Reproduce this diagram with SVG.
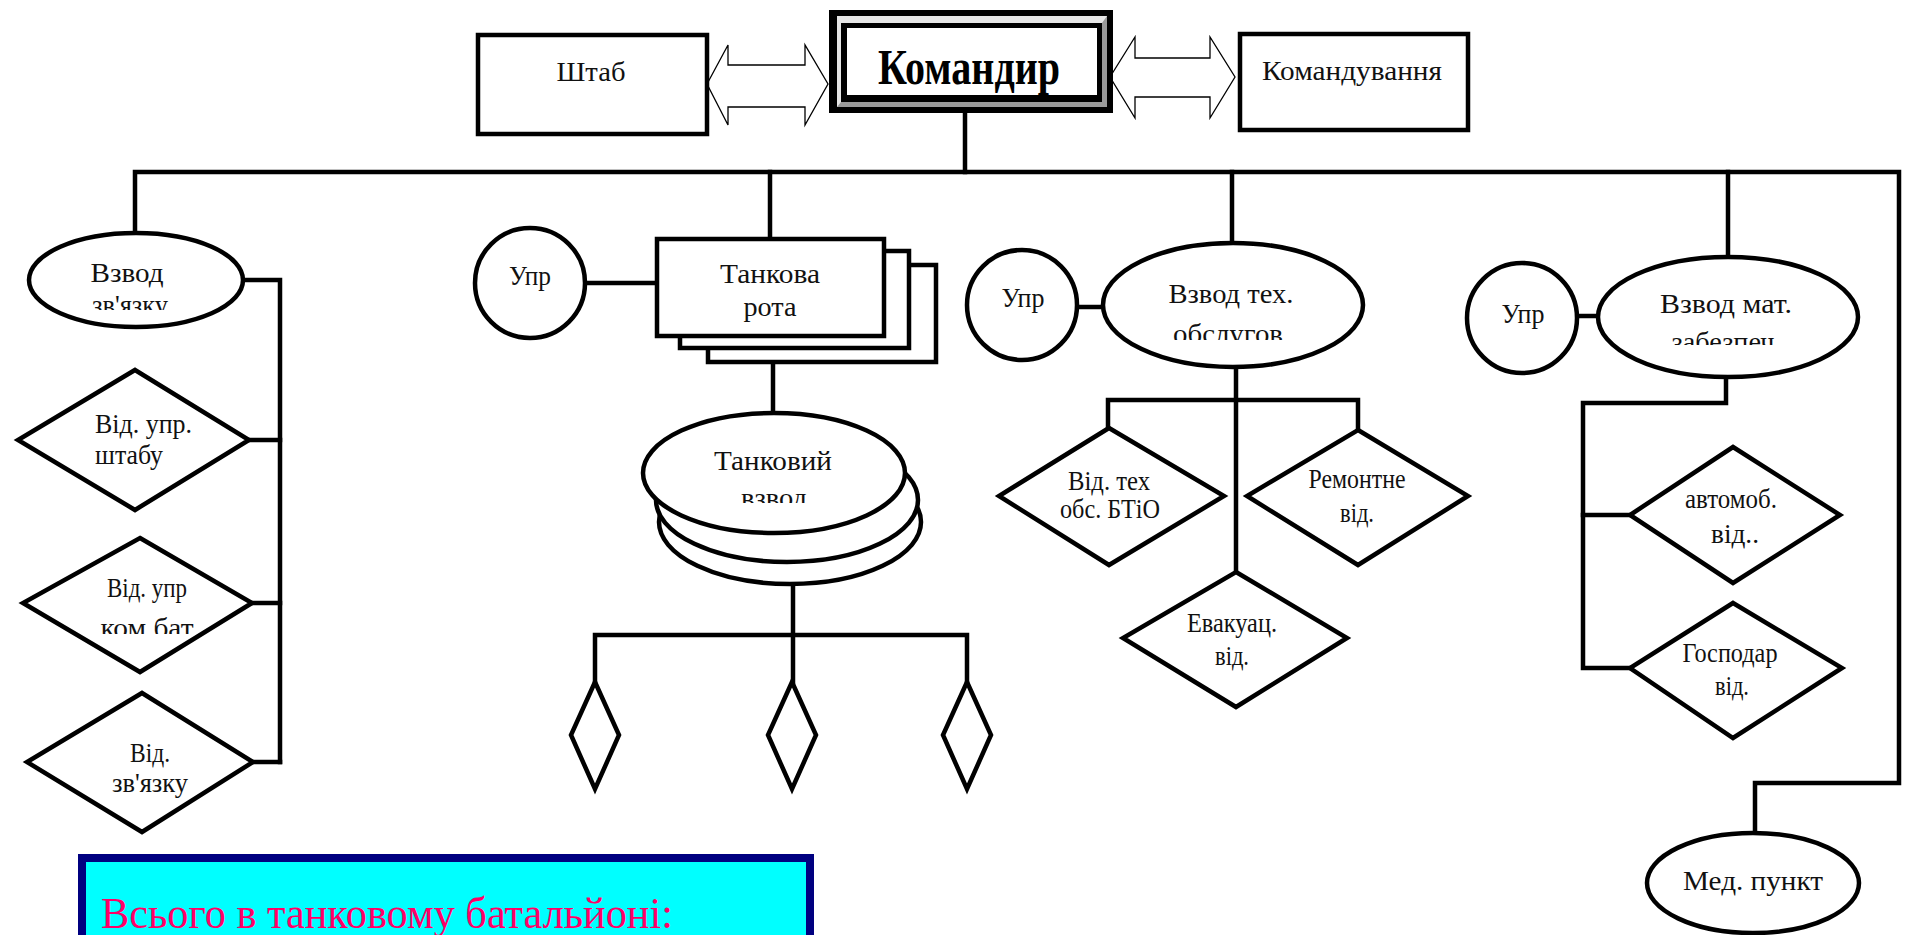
<svg xmlns="http://www.w3.org/2000/svg" width="1906" height="935" viewBox="0 0 1906 935">
<style>
.ln{fill:none;stroke:#000;stroke-width:4.5;stroke-linecap:square}
.sh{fill:#fff;stroke:#000;stroke-width:4.5}
.ar{fill:#fff;stroke:#000;stroke-width:1.3}
.t{font-family:"Liberation Serif","Times New Roman",serif;font-size:28px;fill:#111;text-anchor:middle}
.tl{font-family:"Liberation Serif","Times New Roman",serif;font-size:28px;fill:#111}
.tb{font-family:"Liberation Serif","Times New Roman",serif;font-size:50px;font-weight:bold;fill:#000;text-anchor:middle}
.sum{font-family:"Liberation Serif","Times New Roman",serif;font-size:44px;fill:#ff0066}
</style>
<defs>
<clipPath id="c1"><rect x="20" y="240" width="240" height="70"/></clipPath>
<clipPath id="c2"><rect x="20" y="560" width="240" height="74"/></clipPath>
<clipPath id="c3"><rect x="640" y="420" width="270" height="83"/></clipPath>
<clipPath id="c4"><rect x="1100" y="250" width="270" height="90"/></clipPath>
<clipPath id="c5"><rect x="1600" y="260" width="260" height="85"/></clipPath>
</defs>
<rect width="1906" height="935" fill="#fff"/>

<g id="connectors">
<polyline class="ln" points="965,113 965,172"/>
<polyline class="ln" points="135,231 135,172 1899,172 1899,783 1755,783 1755,833"/>
<polyline class="ln" points="770,172 770,239"/>
<polyline class="ln" points="1232,172 1232,243"/>
<polyline class="ln" points="1728,172 1728,257"/>
<polyline class="ln" points="243,280 280,280 280,762"/>
<line class="ln" x1="249" y1="440" x2="280" y2="440"/>
<line class="ln" x1="252" y1="603" x2="280" y2="603"/>
<line class="ln" x1="253" y1="762" x2="280" y2="762"/>
<line class="ln" x1="585" y1="283" x2="657" y2="283"/>
<line class="ln" x1="773" y1="336" x2="773" y2="413"/>
<polyline class="ln" points="793,584 793,682"/>
<polyline class="ln" points="595,682 595,635 967,635 967,682"/>
<line class="ln" x1="1078" y1="307" x2="1104" y2="307"/>
<line class="ln" x1="1236" y1="367" x2="1236" y2="572"/>
<polyline class="ln" points="1108,426 1108,400 1358,400 1358,430"/>
<line class="ln" x1="1577" y1="316" x2="1598" y2="316"/>
<polyline class="ln" points="1726,377 1726,403 1583,403 1583,668 1630,668"/>
<line class="ln" x1="1583" y1="515" x2="1630" y2="515"/>
<polygon class="ar" points="707,84 728,45 728,65 805,65 805,45 828,84 805,125 805,107 728,107 728,125"/>
<polygon class="ar" points="1110,77 1135,37 1135,58 1210,58 1210,37 1235,77 1210,118 1210,97 1135,97 1135,118"/>
</g>

<g id="shtab">
<rect class="sh" x="478" y="35" width="229" height="99"/>
<text class="t" x="591" y="81" textLength="69" lengthAdjust="spacingAndGlyphs">Штаб</text>
</g>

<g id="komandyr">
<rect x="829" y="10" width="284" height="103" fill="#000"/>
<polygon points="837,16 1107,16 1107,107 837,107" fill="#9a9a9a"/>
<polygon points="837,16 1107,16 1102,23 841,23 841,102 837,107" fill="#e6e6e6"/>
<rect x="841" y="23" width="261" height="79" fill="#000"/>
<rect x="847" y="28" width="250" height="67" fill="#fff"/>
<text class="tb" x="969" y="84" textLength="182" lengthAdjust="spacingAndGlyphs">Командир</text>
</g>

<g id="komanduvannia">
<rect class="sh" x="1240" y="34" width="228" height="96"/>
<text class="t" x="1352" y="80" textLength="180" lengthAdjust="spacingAndGlyphs">Командування</text>
</g>

<g id="vzvod-zviazku">
<ellipse class="sh" cx="136" cy="280" rx="107" ry="47"/>
<text class="t" x="127" y="282" textLength="73" lengthAdjust="spacingAndGlyphs">Взвод</text>
<text class="t" x="130" y="314" clip-path="url(#c1)" textLength="76" lengthAdjust="spacingAndGlyphs">зв'язку</text>
</g>

<g id="vid-upr-shtabu">
<polygon class="sh" points="135,370 249,440 135,510 18,440"/>
<text class="tl" x="95" y="433" textLength="97" lengthAdjust="spacingAndGlyphs">Від. упр.</text>
<text class="tl" x="95" y="464" textLength="68" lengthAdjust="spacingAndGlyphs">штабу</text>
</g>

<g id="vid-upr-kom-bat">
<polygon class="sh" points="140,538 252,603 140,672 23,603"/>
<text class="t" x="147" y="597" textLength="80" lengthAdjust="spacingAndGlyphs">Від. упр</text>
<text class="t" x="147" y="637" clip-path="url(#c2)" textLength="93" lengthAdjust="spacingAndGlyphs">ком бат</text>
</g>

<g id="vid-zviazku">
<polygon class="sh" points="142,693 253,762 142,832 27,762"/>
<text class="t" x="150" y="762" textLength="40" lengthAdjust="spacingAndGlyphs">Від.</text>
<text class="t" x="150" y="792" textLength="76" lengthAdjust="spacingAndGlyphs">зв'язку</text>
</g>

<g id="upr-1">
<circle class="sh" cx="530" cy="283" r="55"/>
<text class="t" x="530" y="285" textLength="42" lengthAdjust="spacingAndGlyphs">Упр</text>
</g>

<g id="tankova-rota">
<rect class="sh" x="708" y="265" width="228" height="97"/>
<rect class="sh" x="680" y="251" width="229" height="97"/>
<rect class="sh" x="657" y="239" width="227" height="97"/>
<text class="t" x="770" y="283" textLength="100" lengthAdjust="spacingAndGlyphs">Танкова</text>
<text class="t" x="770" y="316" textLength="53" lengthAdjust="spacingAndGlyphs">рота</text>
</g>

<g id="tankovyi-vzvod">
<ellipse class="sh" cx="790" cy="522" rx="131" ry="62"/>
<ellipse class="sh" cx="787" cy="500" rx="131" ry="62"/>
<ellipse class="sh" cx="774" cy="473" rx="131" ry="60"/>
<text class="t" x="773" y="470" textLength="118" lengthAdjust="spacingAndGlyphs">Танковий</text>
<text class="t" x="774" y="507" clip-path="url(#c3)" textLength="66" lengthAdjust="spacingAndGlyphs">взвод</text>
</g>

<g id="tank-1"><polygon class="sh" points="595,682 619,735 595,789 571,735"/></g>
<g id="tank-2"><polygon class="sh" points="792,682 816,735 792,789 768,735"/></g>
<g id="tank-3"><polygon class="sh" points="967,682 991,735 967,789 943,735"/></g>

<g id="upr-2">
<circle class="sh" cx="1022" cy="305" r="55"/>
<text class="t" x="1023" y="307" textLength="43" lengthAdjust="spacingAndGlyphs">Упр</text>
</g>

<g id="vzvod-tekh">
<ellipse class="sh" cx="1233" cy="305" rx="130" ry="62"/>
<text class="t" x="1231" y="303" textLength="125" lengthAdjust="spacingAndGlyphs">Взвод тех.</text>
<text class="t" x="1228" y="343" clip-path="url(#c4)" textLength="110" lengthAdjust="spacingAndGlyphs">обслугов</text>
</g>

<g id="vid-tekh-obs">
<polygon class="sh" points="1109,428 1224,496 1109,565 999,496"/>
<text class="t" x="1109" y="490" textLength="82" lengthAdjust="spacingAndGlyphs">Від. тех</text>
<text class="t" x="1110" y="518" textLength="100" lengthAdjust="spacingAndGlyphs">обс. БТіО</text>
</g>

<g id="remontne">
<polygon class="sh" points="1358,430 1468,496 1358,565 1247,496"/>
<text class="t" x="1357" y="488" textLength="97" lengthAdjust="spacingAndGlyphs">Ремонтне</text>
<text class="t" x="1357" y="522" textLength="34" lengthAdjust="spacingAndGlyphs">від.</text>
</g>

<g id="evakuats">
<polygon class="sh" points="1236,572 1347,638 1236,707 1123,638"/>
<text class="t" x="1232" y="632" textLength="90" lengthAdjust="spacingAndGlyphs">Евакуац.</text>
<text class="t" x="1232" y="665" textLength="34" lengthAdjust="spacingAndGlyphs">від.</text>
</g>

<g id="upr-3">
<circle class="sh" cx="1522" cy="318" r="55"/>
<text class="t" x="1523" y="323" textLength="43" lengthAdjust="spacingAndGlyphs">Упр</text>
</g>

<g id="vzvod-mat">
<ellipse class="sh" cx="1728" cy="317" rx="130" ry="60"/>
<text class="t" x="1726" y="313" textLength="132" lengthAdjust="spacingAndGlyphs">Взвод мат.</text>
<text class="t" x="1723" y="351" clip-path="url(#c5)" textLength="103" lengthAdjust="spacingAndGlyphs">забезпеч</text>
</g>

<g id="avtomob">
<polygon class="sh" points="1733,447 1840,515 1733,583 1630,515"/>
<text class="t" x="1731" y="508" textLength="92" lengthAdjust="spacingAndGlyphs">автомоб.</text>
<text class="t" x="1735" y="543" textLength="48" lengthAdjust="spacingAndGlyphs">від..</text>
</g>

<g id="hospodar">
<polygon class="sh" points="1733,603 1842,668 1733,738 1630,668"/>
<text class="t" x="1730" y="662" textLength="95" lengthAdjust="spacingAndGlyphs">Господар</text>
<text class="t" x="1732" y="695" textLength="34" lengthAdjust="spacingAndGlyphs">від.</text>
</g>

<g id="med-punkt">
<ellipse class="sh" cx="1753" cy="883" rx="106" ry="50"/>
<text class="t" x="1753" y="890" textLength="140" lengthAdjust="spacingAndGlyphs">Мед. пункт</text>
</g>

<g id="summary">
<rect x="78" y="854" width="736" height="100" fill="#000080"/>
<rect x="86" y="862" width="720" height="90" fill="#00ffff"/>
<text class="sum" x="101" y="928" textLength="572" lengthAdjust="spacingAndGlyphs">Всього в танковому батальйоні:</text>
</g>
</svg>
